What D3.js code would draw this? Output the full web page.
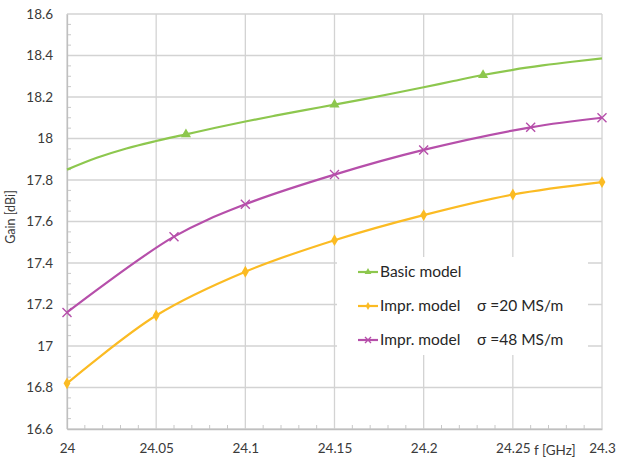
<!DOCTYPE html>
<html>
<head>
<meta charset="utf-8">
<script src="https://cdn.jsdelivr.net/npm/d3@7"></script>
<style>
  html, body { margin: 0; padding: 0; background: #fff; }
  svg { display: block; font-family: Lato, "Open Sans", sans-serif; }
</style>
</head>
<body>
<svg id="chart" width="619" height="461"></svg>
<script>
// Frequency sweep (GHz) and gain (dBi) for each model
const basicFreq = [24, 24.0167, 24.0333, 24.05, 24.0667, 24.0833, 24.1, 24.1167, 24.1333, 24.15,
                   24.1667, 24.1833, 24.2, 24.2167, 24.2333, 24.25, 24.2667, 24.2833, 24.3];
const basicGain = [17.85, 17.907, 17.952, 17.988, 18.02, 18.052, 18.082, 18.11, 18.137, 18.163,
                   18.19, 18.218, 18.247, 18.277, 18.306, 18.331, 18.352, 18.37, 18.386];
const basicMarkerIdx = [4, 9, 14];

const impr20Freq = [24, 24.05, 24.1, 24.15, 24.2, 24.25, 24.3];
const impr20Gain = [16.82, 17.147, 17.358, 17.51, 17.631, 17.73, 17.79];

const impr48Freq = [24, 24.06, 24.1, 24.15, 24.2, 24.26, 24.3];
const impr48Gain = [17.162, 17.527, 17.683, 17.826, 17.945, 18.054, 18.1];

const yTicks = [16.6, 16.8, 17, 17.2, 17.4, 17.6, 17.8, 18, 18.2, 18.4, 18.6];
const yTickLabels = ["16.6", "16.8", "17", "17.2", "17.4", "17.6", "17.8", "18", "18.2", "18.4", "18.6"];
const xTicks = [24, 24.05, 24.1, 24.15, 24.2, 24.25, 24.3];
const xTickLabels = ["24", "24.05", "24.1", "24.15", "24.2", "24.25", "24.3"];

const seriesNames = ["Basic model", "Impr. model", "Impr. model"];
const seriesNotes = ["", "\u03C3 =20 MS/m", "\u03C3 =48 MS/m"];
const seriesColors = ["#8dc74e", "#fbbb23", "#b64faa"];
const seriesMarkers = ["triangle", "diamond", "cross"];

const svg = d3.select("#chart");
const x = d3.scaleLinear().domain([24, 24.3]).range([67, 602]);
const y = d3.scaleLinear().domain([16.6, 18.6]).range([429, 14]);

const gridColor = "#d3d3d3";
const textColor = "#3a3a3a";

// Major gridlines
svg.append("g").selectAll("line").data(yTicks).join("line")
  .attr("x1", x(24)).attr("x2", x(24.3))
  .attr("y1", d => y(d)).attr("y2", d => y(d))
  .attr("stroke", gridColor).attr("stroke-width", 1.3);
svg.append("g").selectAll("line").data(xTicks).join("line")
  .attr("x1", d => x(d)).attr("x2", d => x(d))
  .attr("y1", y(16.6)).attr("y2", y(18.6))
  .attr("stroke", gridColor).attr("stroke-width", 1.3);

// Minor inward ticks on the axes
const yMinor = d3.range(0, 41).map(i => 16.6 + i * 0.05).filter((d, i) => i % 4 !== 0);
const xMinor = d3.range(0, 31).map(i => 24 + i * 0.01).filter((d, i) => i % 5 !== 0);
svg.append("g").selectAll("line").data(yMinor).join("line")
  .attr("x1", x(24)).attr("x2", x(24) + 4)
  .attr("y1", d => y(d)).attr("y2", d => y(d))
  .attr("stroke", "#c8c8c8").attr("stroke-width", 1);
svg.append("g").selectAll("line").data(xMinor).join("line")
  .attr("x1", d => x(d)).attr("x2", d => x(d))
  .attr("y1", y(16.6)).attr("y2", y(16.6) - 4)
  .attr("stroke", "#c8c8c8").attr("stroke-width", 1);

// Axis lines and tick labels via d3 axes
const yAxis = svg.append("g").attr("transform", `translate(${x(24)},0)`)
  .call(d3.axisLeft(y).tickValues(yTicks).tickFormat((d, i) => yTickLabels[i]).tickSize(0).tickPadding(14));
const xAxis = svg.append("g").attr("transform", `translate(0,${y(16.6)})`)
  .call(d3.axisBottom(x).tickValues(xTicks).tickFormat((d, i) => xTickLabels[i]).tickSize(0).tickPadding(14));
[yAxis, xAxis].forEach(a => {
  a.select(".domain").attr("stroke", "#bfbfbf").attr("stroke-width", 1.3);
  a.selectAll("text").attr("fill", textColor).attr("font-size", 13.5)
    .attr("font-family", 'Lato, "Open Sans", sans-serif');
});

// Axis titles
svg.append("text").attr("x", 534).attr("y", 455)
  .attr("font-size", 13.5).attr("fill", textColor).text("f [GHz]");
svg.append("text").attr("transform", "translate(15,217) rotate(-90)")
  .attr("text-anchor", "middle").attr("font-size", 12.5).attr("fill", textColor).text("Gain [dBi]");

// Marker drawing
function marker(g, type, color, size) {
  if (type === "triangle") {
    g.append("path").attr("d", d3.symbol(d3.symbolTriangle, size * size * 0.55)())
      .attr("fill", color);
  } else if (type === "diamond") {
    g.append("path").attr("d", d3.symbol(d3.symbolDiamond, size * size * 0.5)())
      .attr("fill", color);
  } else {
    const h = size / 2;
    g.append("path").attr("d", `M${-h},${-h}L${h},${h}M${-h},${h}L${h},${-h}`)
      .attr("stroke", color).attr("stroke-width", 1.4).attr("fill", "none");
  }
}

const smoothLine = d3.line().x(d => x(d[0])).y(d => y(d[1])).curve(d3.curveMonotoneX);
const sparseLine = d3.line().x(d => x(d[0])).y(d => y(d[1])).curve(d3.curveCatmullRom.alpha(0.5));

const series = [
  { pts: d3.zip(basicFreq, basicGain), markIdx: basicMarkerIdx, gen: smoothLine },
  { pts: d3.zip(impr20Freq, impr20Gain), markIdx: impr20Freq.map((d, i) => i), gen: sparseLine },
  { pts: d3.zip(impr48Freq, impr48Gain), markIdx: impr48Freq.map((d, i) => i), gen: sparseLine }
];

series.forEach((s, k) => {
  svg.append("path").datum(s.pts).attr("d", s.gen)
    .attr("fill", "none").attr("stroke", seriesColors[k]).attr("stroke-width", 2.2);
  s.markIdx.forEach(i => {
    const g = svg.append("g").attr("transform", `translate(${x(s.pts[i][0])},${y(s.pts[i][1])})`);
    marker(g, seriesMarkers[k], seriesColors[k], 9);
  });
});

// Legend
const legend = svg.append("g");
legend.append("rect").attr("x", 337).attr("y", 257).attr("width", 251).attr("height", 98).attr("fill", "#fff");
seriesNames.forEach((name, k) => {
  const cy = 272 + k * 34;
  legend.append("line").attr("x1", 358).attr("x2", 378).attr("y1", cy).attr("y2", cy)
    .attr("stroke", seriesColors[k]).attr("stroke-width", 2.2);
  const g = legend.append("g").attr("transform", `translate(368,${cy})`);
  marker(g, seriesMarkers[k], seriesColors[k], 6);
  legend.append("text").attr("x", 380).attr("y", cy).attr("dy", "0.35em")
    .attr("font-size", 15.5).attr("fill", "#262626").text(name);
  if (seriesNotes[k]) {
    legend.append("text").attr("x", 477).attr("y", cy).attr("dy", "0.35em")
      .attr("font-size", 15.5).attr("fill", "#262626").text(seriesNotes[k]);
  }
});
</script>
</body>
</html>
